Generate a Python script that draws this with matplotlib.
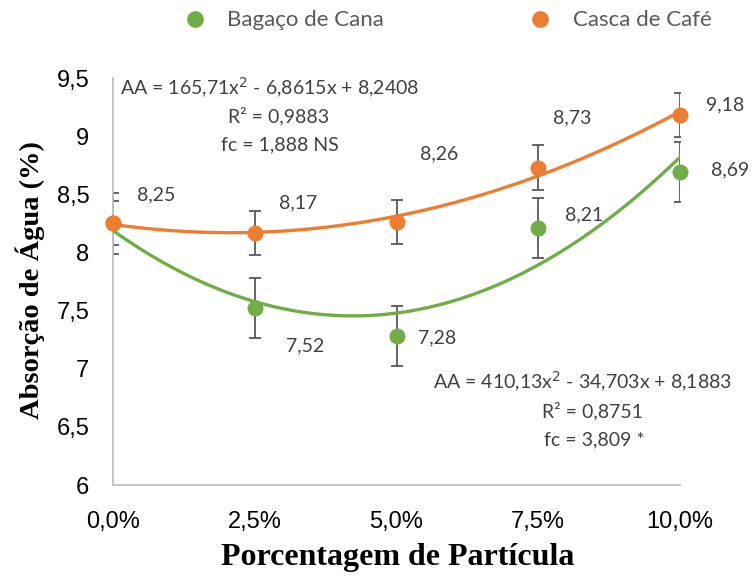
import numpy as np
import matplotlib
matplotlib.use("Agg")
import matplotlib.pyplot as plt
from matplotlib.lines import Line2D

# Particle percentage levels (fraction) and their tick labels
x_levels = [0.0, 0.025, 0.05, 0.075, 0.10]
x_ticklabels = ["0,0%", "2,5%", "5,0%", "7,5%", "10,0%"]

# Water absorption (%) per residue type
bagaco = [8.25, 7.52, 7.28, 8.21, 8.69]
casca = [8.25, 8.17, 8.26, 8.73, 9.18]
bagaco_err = [0.26, 0.26, 0.26, 0.26, 0.26]
casca_err = [0.19, 0.19, 0.19, 0.19, 0.19]

# Quadratic trend coefficients (a x^2 + b x + c)
bagaco_fit = [410.13, -34.703, 8.1883]
casca_fit = [165.71, -6.8615, 8.2408]

y_ticks = [6, 6.5, 7, 7.5, 8, 8.5, 9, 9.5]
y_ticklabels = ["6", "6,5", "7", "7,5", "8", "8,5", "9", "9,5"]

series_names = ["Bagaço de Cana", "Casca de Café"]

GREEN = "#70AD47"
ORANGE = "#ED7D31"
LABEL_GRAY = "#404040"
LABEL_FONT = "Lato"
LABEL_SIZE = 14

W, H = 753, 576
fig = plt.figure(figsize=(W / 100, H / 100), dpi=100)
ax = fig.add_axes([113 / W, 1 - 485 / H, (680 - 113) / W, (485 - 78) / H])

ax.set_xlim(0, 0.10)
ax.set_ylim(6, 9.5)

# Trend curves
xs = np.linspace(0, 0.10, 200)
ax.plot(xs, np.polyval(bagaco_fit, xs), color=GREEN, lw=2.4, zorder=3)
ax.plot(xs, np.polyval(casca_fit, xs), color=ORANGE, lw=2.4, zorder=3)

# Error bars
for vals, errs in ((bagaco, bagaco_err), (casca, casca_err)):
    ax.errorbar(x_levels, vals, yerr=errs, fmt="none", ecolor="#595959",
                elinewidth=1.3, capsize=4, capthick=1.3, zorder=2)

# Markers
ax.plot(x_levels, bagaco, "o", color=GREEN, ms=10.5, clip_on=False, zorder=4)
ax.plot(x_levels, casca, "o", color=ORANGE, ms=10.5, clip_on=False, zorder=5)

# Value labels (offsets in pixels)
casca_offsets = [(43, -28), (43, -30), (43, -68), (34, -50), (45, -10)]
bagaco_offsets = [None, (50, 38), (41, 2), (46, -13), (50, -2)]


def value_label(xv, v, off):
    ax.annotate(f"{v:.2f}".replace(".", ","), (xv, v),
                xytext=(off[0] * 0.72, -off[1] * 0.72), textcoords="offset points",
                ha="center", va="center", fontsize=LABEL_SIZE, color=LABEL_GRAY,
                family=LABEL_FONT, annotation_clip=False)


for xv, v, off in zip(x_levels, casca, casca_offsets):
    value_label(xv, v, off)
for xv, v, off in zip(x_levels, bagaco, bagaco_offsets):
    if off is not None:
        value_label(xv, v, off)


# Trend equations
def ftext(px, py, s, ha="center"):
    fig.text(px / W, 1 - py / H, s, ha=ha, va="center", fontsize=LABEL_SIZE,
             color=LABEL_GRAY, family=LABEL_FONT)


ftext(120, 88, "AA = 165,71x$^2$ - 6,8615x + 8,2408", ha="left")
ftext(279, 116, "R² = 0,9883")
ftext(280, 145, "fc = 1,888 NS")
ftext(433, 382, "AA = 410,13x$^2$ - 34,703x + 8,1883", ha="left")
ftext(593, 411, "R² = 0,8751")
ftext(594, 440, "fc = 3,809 *")

# Axes styling
for side in ("top", "right"):
    ax.spines[side].set_visible(False)
for side in ("left", "bottom"):
    ax.spines[side].set_color("#BFBFBF")
    ax.spines[side].set_linewidth(1.3)
ax.tick_params(length=0, labelsize=17)
ax.set_xticks(x_levels)
ax.set_xticklabels(x_ticklabels, family="Liberation Sans")
ax.set_yticks(y_ticks)
ax.set_yticklabels(y_ticklabels, family="Liberation Sans")
ax.tick_params(axis="y", pad=17)
ax.tick_params(axis="x", pad=19)

fig.text(398 / W, 1 - 557 / H, "Porcentagem de Partícula", ha="center",
         va="center", fontsize=23, fontweight="bold", family="Liberation Serif")
fig.text(30 / W, 1 - 280 / H, "Absorção de Água (%)", ha="center", va="center",
         rotation=90, fontsize=20.5, fontweight="bold", family="Liberation Serif")

# Legend row at the top: marker + name for each series
legend_items = [(195, 227, GREEN), (540, 573, ORANGE)]
for name, (mx, tx, col) in zip(series_names, legend_items):
    fig.add_artist(Line2D([mx / W], [1 - 19 / H], ls="none", marker="o", ms=11,
                          color=col, transform=fig.transFigure))
    fig.text(tx / W, 1 - 26 / H, name, ha="left", va="baseline", fontsize=16,
             color="#595959", family=LABEL_FONT)

fig.savefig("out.png", dpi=100)
